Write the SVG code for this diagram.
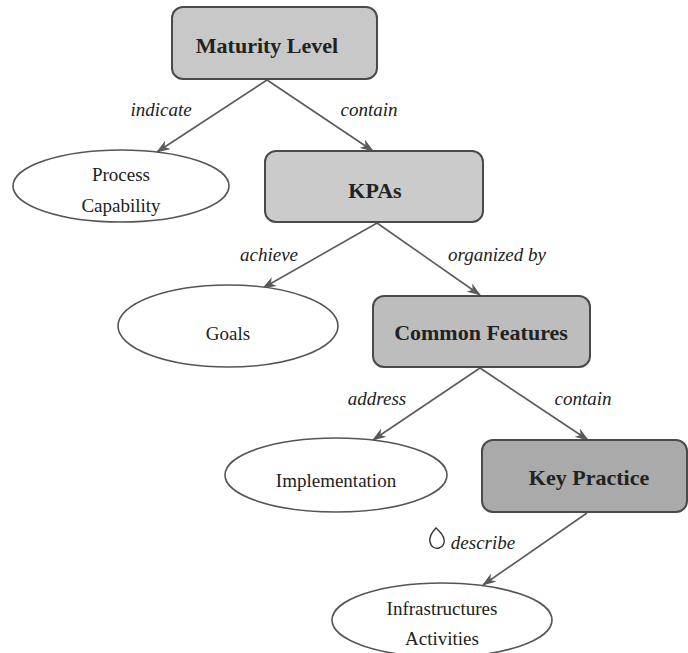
<svg xmlns="http://www.w3.org/2000/svg" width="688" height="653" viewBox="0 0 688 653">
<style>
.box rect{stroke:#4a4a4a;stroke-width:2}
.ell ellipse{fill:#fff;stroke:#555;stroke-width:1.6}
text{font-family:"Liberation Serif","DejaVu Serif",serif;fill:#222;text-anchor:middle}
.bt{font-weight:bold;font-size:22px}
.et{font-size:19px}
.lt{font-style:italic;font-size:19px}
.edge line{stroke:#5a5a5a;stroke-width:1.6;marker-end:url(#ah)}
</style>
<defs>
<marker id="ah" viewBox="0 0 14 10" refX="13" refY="5" markerWidth="14" markerHeight="10" markerUnits="userSpaceOnUse" orient="auto">
<path d="M0,0 L14,5 L0,10 L4,5 Z" fill="#5a5a5a"/>
</marker>
</defs>
<rect width="688" height="653" fill="#fff"/>
<g id="connectors" class="edge">
<line x1="267" y1="80" x2="157" y2="152"/>
<line x1="267" y1="80" x2="373" y2="151"/>
<line x1="377" y1="223" x2="263" y2="288"/>
<line x1="377" y1="223" x2="480" y2="295"/>
<line x1="480" y1="368" x2="373" y2="440"/>
<line x1="480" y1="368" x2="588" y2="440"/>
<line x1="587" y1="513" x2="483" y2="585"/>
</g>
<g id="edge-labels">
<text class="lt" x="161" y="116">indicate</text>
<text class="lt" x="369" y="116">contain</text>
<text class="lt" x="269" y="261">achieve</text>
<text class="lt" x="497" y="261">organized by</text>
<text class="lt" x="377" y="405">address</text>
<text class="lt" x="583" y="405">contain</text>
<text class="lt" x="483" y="549">describe</text>
<path d="M436,528 C432,532 429,537 430,542 C431,547 435,549 439,548 C443,547 445,543 444,539 C443,534 439,531 436,528 Z" fill="none" stroke="#333" stroke-width="1.4"/>
</g>
<g id="maturity-level" class="box">
<rect x="172" y="7" width="205" height="72" rx="11" fill="#c8c8c8"/>
<text class="bt" x="267" y="53">Maturity Level</text>
</g>
<g id="process-capability" class="ell">
<ellipse cx="121" cy="186" rx="108" ry="36"/>
<text class="et" x="121" y="181">Process</text>
<text class="et" x="121" y="212">Capability</text>
</g>
<g id="kpas" class="box">
<rect x="265" y="151" width="218" height="71" rx="11" fill="#cbcbcb"/>
<text class="bt" x="375" y="198">KPAs</text>
</g>
<g id="goals" class="ell">
<ellipse cx="228" cy="326" rx="110" ry="41"/>
<text class="et" x="228" y="340">Goals</text>
</g>
<g id="common-features" class="box">
<rect x="373" y="296" width="217" height="71" rx="11" fill="#bdbdbd"/>
<text class="bt" x="481" y="340">Common Features</text>
</g>
<g id="implementation" class="ell">
<ellipse cx="336" cy="475" rx="111" ry="37"/>
<text class="et" x="336" y="487">Implementation</text>
</g>
<g id="key-practice" class="box">
<rect x="482" y="440" width="205" height="72" rx="11" fill="#aaaaaa"/>
<text class="bt" x="589" y="485">Key Practice</text>
</g>
<g id="infrastructures-activities" class="ell">
<ellipse cx="442" cy="620" rx="110" ry="37"/>
<text class="et" x="442" y="615">Infrastructures</text>
<text class="et" x="442" y="645">Activities</text>
</g>
</svg>
